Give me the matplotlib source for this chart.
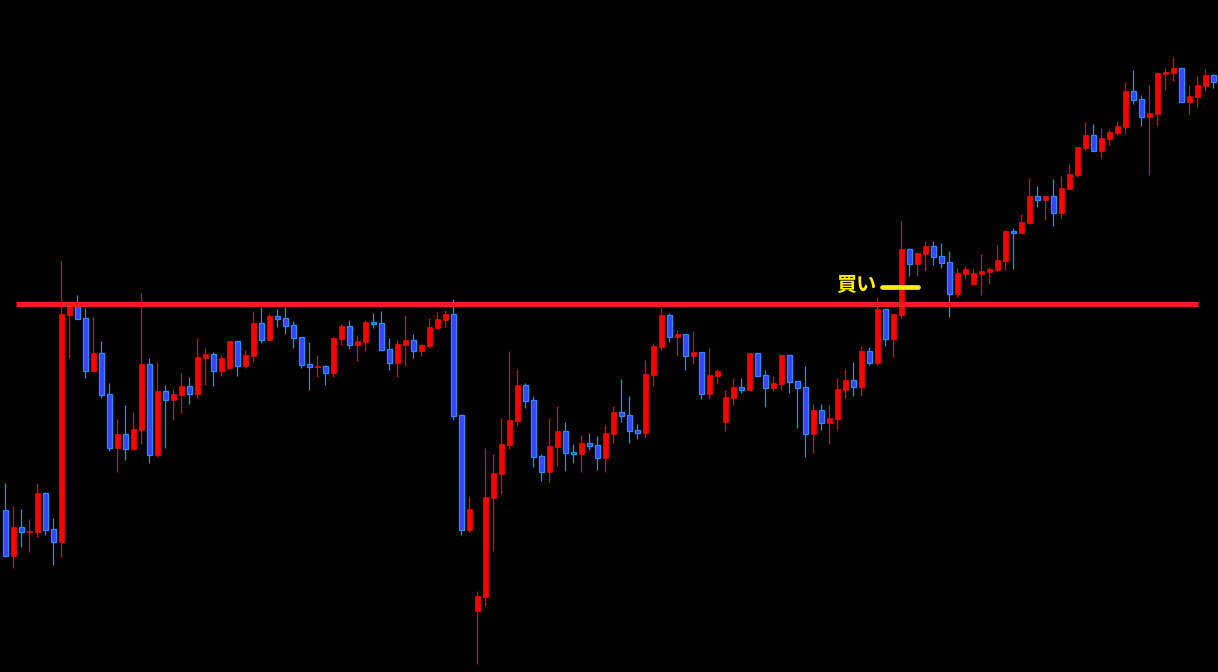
import matplotlib
matplotlib.use("Agg")
import matplotlib.pyplot as plt
from matplotlib.patches import Rectangle

plt.rcParams['font.family'] = ['Noto Sans CJK JP', 'DejaVu Sans']

# Price values (chart units, larger = lower on screen; axis is inverted)
opens = [510, 556, 527, 532, 532, 493, 529, 542, 315, 306,
         318, 371, 353, 394, 448, 434, 449, 430, 364, 455,
         391, 400, 395, 386, 394, 358, 354, 371, 368, 341,
         366, 356, 323, 340, 316, 318, 325, 337, 364, 367,
         366, 373, 339, 326, 345, 342, 322, 323, 349, 363,
         345, 340, 351, 346, 328, 320, 314, 415, 530, 611,
         597, 498, 474, 445, 421, 385, 400, 456, 472, 447,
         431, 452, 454, 443, 445, 458, 434, 412, 415, 430,
         433, 375, 347, 315, 337, 334, 356, 352, 394, 376,
         422, 398, 387, 390, 353, 375, 388, 384, 355, 381,
         387, 434, 410, 423, 419, 390, 380, 387, 351, 363,
         309, 339, 315, 249, 264, 254, 246, 256, 262, 294,
         274, 284, 274, 272, 270, 261, 231, 233, 223, 196,
         200, 196, 213, 189, 175, 148, 135, 151, 139, 133,
         127, 91, 99, 117, 114, 74, 73, 68, 102, 97,
         86, 75]
highs = [483, 506, 509, 519, 483, 492, 518, 261, 304, 295,
         308, 317, 341, 383, 419, 405, 412, 293, 358, 362,
         385, 389, 373, 377, 338, 348, 352, 355, 341, 341,
         350, 311, 307, 314, 309, 307, 321, 337, 342, 355,
         365, 337, 324, 320, 335, 320, 313, 311, 338, 340,
         315, 334, 344, 318, 312, 310, 299, 414, 496, 591,
         448, 454, 418, 351, 369, 383, 396, 454, 418, 406,
         422, 444, 435, 433, 436, 425, 406, 379, 396, 424,
         360, 343, 308, 313, 330, 334, 331, 352, 348, 369,
         390, 378, 378, 353, 353, 370, 376, 355, 355, 381,
         366, 404, 404, 405, 378, 369, 362, 346, 347, 297,
         309, 314, 221, 248, 252, 241, 241, 243, 251, 268,
         266, 268, 254, 267, 245, 230, 228, 214, 178, 186,
         195, 179, 176, 164, 147, 122, 124, 128, 130, 121,
         82, 70, 95, 85, 72, 68, 57, 68, 85, 76,
         69, 74]
lows = [557, 568, 547, 552, 537, 535, 565, 557, 358, 319,
        378, 372, 398, 451, 472, 460, 450, 444, 463, 457,
        448, 420, 413, 404, 398, 385, 386, 376, 369, 376,
        368, 362, 343, 340, 327, 334, 348, 368, 390, 377,
        385, 377, 345, 349, 361, 351, 328, 350, 370, 377,
        366, 358, 356, 348, 329, 327, 420, 535, 532, 664,
        606, 551, 494, 449, 426, 408, 467, 481, 482, 466,
        471, 463, 472, 450, 470, 472, 443, 422, 443, 439,
        438, 386, 350, 342, 356, 370, 364, 399, 399, 384,
        431, 405, 393, 390, 376, 407, 391, 390, 393, 428,
        457, 453, 430, 444, 430, 398, 396, 396, 365, 365,
        346, 357, 318, 276, 276, 271, 265, 268, 317, 297,
        279, 284, 295, 284, 271, 270, 269, 233, 224, 207,
        220, 226, 218, 189, 177, 150, 151, 158, 145, 135,
        134, 104, 126, 175, 126, 90, 81, 102, 114, 107,
        91, 88]
closes = [556, 527, 532, 531, 493, 530, 542, 314, 306, 319,
          371, 353, 395, 448, 434, 449, 429, 364, 455, 391,
          400, 394, 386, 394, 357, 354, 371, 358, 341, 366,
          355, 323, 340, 316, 319, 326, 338, 365, 367, 366,
          373, 338, 326, 345, 341, 322, 324, 350, 363, 344,
          340, 351, 345, 327, 319, 314, 416, 530, 509, 596,
          497, 473, 444, 420, 385, 401, 457, 472, 446, 431,
          453, 454, 443, 446, 458, 433, 412, 416, 431, 433,
          374, 346, 315, 337, 334, 356, 352, 394, 375, 371,
          397, 387, 390, 353, 376, 388, 383, 355, 382, 388,
          434, 410, 423, 418, 389, 380, 387, 351, 363, 309,
          339, 314, 249, 264, 253, 246, 257, 263, 294, 273,
          269, 273, 271, 269, 260, 231, 233, 222, 196, 200,
          196, 213, 188, 174, 147, 135, 151, 138, 132, 126,
          91, 100, 117, 113, 73, 72, 68, 102, 96, 85,
          75, 82]

resistance = 304
label_text = "買い"

fig = plt.figure(figsize=(12.18, 6.72), dpi=100)
fig.patch.set_facecolor("black")
ax = fig.add_axes([0, 0, 1, 1])
ax.set_facecolor("black")
ax.set_axis_off()

n = len(opens)
px = 1.0 / 8.0  # one pixel in x data units
body_w = 5 * px
up_col = "#FF0000"
dn_fill = "#4040FF"
dn_edge = "#1E90FF"

for i in range(n):
    o, h, l, c = opens[i], highs[i], lows[i], closes[i]
    up = c <= o  # smaller value = higher price on screen
    wick_col = up_col if up else dn_edge
    ax.vlines(i, h, l, color=wick_col, linewidth=0.9, zorder=2)
    top = min(o, c)
    hgt = max(abs(o - c), 1.2)
    if up:
        ax.add_patch(Rectangle((i - body_w / 2, top), body_w, hgt,
                               facecolor=up_col, edgecolor=up_col,
                               linewidth=0.5, zorder=3))
    else:
        ax.add_patch(Rectangle((i - body_w / 2, top), body_w, hgt,
                               facecolor=dn_fill, edgecolor=dn_edge,
                               linewidth=0.9, zorder=3))

# resistance line
ax.plot([1.33, 149.08], [resistance, resistance], color="#EE1C25",
        linewidth=3.6, solid_capstyle="butt", zorder=5)

# buy annotation
ax.plot([109.6, 114.05], [286.5, 286.5], color="#FFEE00", linewidth=3.4,
        solid_capstyle="round", zorder=6)
ax.text(108.9, 284.5, label_text, color="#FFEE00", fontsize=14.5,
        fontweight="bold", ha="right", va="center", zorder=6)

ax.set_xlim(-5.33 / 8, (1218 - 5.33) / 8)
ax.set_ylim(672, 0)

fig.savefig("out.png", dpi=100, facecolor="black")
